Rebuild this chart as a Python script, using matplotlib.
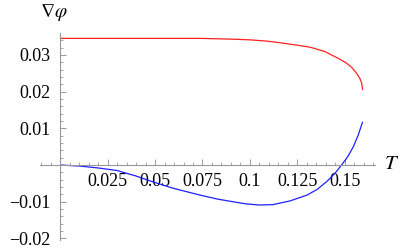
import matplotlib.pyplot as plt
from matplotlib.ticker import FixedLocator

# Valores
t_rojo = [0.0, 0.02, 0.04, 0.06, 0.074, 0.09, 0.1, 0.108, 0.116, 0.1255, 0.1316, 0.1395,
          0.1474, 0.1509, 0.1535, 0.1561, 0.1578, 0.1588, 0.1593]
v_rojo = [0.0345, 0.0345, 0.0345, 0.0345, 0.0345, 0.0343, 0.0341, 0.0338, 0.0333, 0.0326,
          0.0321, 0.0309, 0.0288, 0.0277, 0.0266, 0.0250, 0.0236, 0.0223, 0.0204]

t_azul = [0.0, 0.0105, 0.02, 0.03, 0.04, 0.0495, 0.06, 0.0737, 0.083, 0.091, 0.098, 0.105,
          0.112, 0.121, 0.13, 0.1355, 0.1404, 0.1445, 0.1482, 0.1515, 0.1544, 0.157, 0.1593]
v_azul = [0.0, -0.0003, -0.0008, -0.0015, -0.0030, -0.0047, -0.0064, -0.0082, -0.0093,
          -0.0100, -0.0106, -0.0109, -0.0108, -0.0098, -0.0082, -0.0066, -0.0045, -0.0024,
          0.0, 0.0023, 0.0050, 0.0082, 0.0118]

x_ticks = [0.025, 0.05, 0.075, 0.1, 0.125, 0.15]
x_labels = ['0.025', '0.05', '0.075', '0.1', '0.125', '0.15']
y_ticks = [-0.02, -0.01, 0.01, 0.02, 0.03]
y_labels = ['\u22120.02', '\u22120.01', '0.01', '0.02', '0.03']

plt.rcParams['font.family'] = 'serif'
plt.rcParams['font.serif'] = ['Liberation Serif', 'DejaVu Serif']
plt.rcParams['mathtext.fontset'] = 'stix'

fig = plt.figure(figsize=(4.05, 2.5), dpi=100)
ax = fig.add_axes([0, 0, 1, 1])
ax.set_xlim(-0.03158, 0.18158)
ax.set_ylim(-0.02316, 0.04496)

gris = '#999999'
for lado in ['top', 'right']:
    ax.spines[lado].set_visible(False)
ax.spines['left'].set_position(('data', 0))
ax.spines['bottom'].set_position(('data', 0))
ax.spines['left'].set_bounds(-0.0203, 0.036)
ax.spines['bottom'].set_bounds(-0.0105, 0.1658)
for lado in ['left', 'bottom']:
    ax.spines[lado].set_color(gris)
    ax.spines[lado].set_linewidth(0.8)

ax.xaxis.set_major_locator(FixedLocator(x_ticks))
ax.set_xticklabels(x_labels)
ax.xaxis.set_minor_locator(FixedLocator([i * 0.005 for i in range(-2, 34)]))
ax.yaxis.set_major_locator(FixedLocator(y_ticks))
ax.set_yticklabels(y_labels)
ax.yaxis.set_minor_locator(FixedLocator([i * 0.002 for i in range(-10, 18)]))

ax.tick_params(which='major', direction='in', length=4, width=0.7, color=gris,
               labelsize=13, pad=6)
ax.tick_params(which='minor', direction='in', length=2.3, width=0.6, color=gris)
ax.tick_params(axis='y', pad=7)

ax.plot(t_rojo, v_rojo, color='#ff2020', lw=0.9, solid_capstyle='butt')
ax.plot(t_azul, v_azul, color='#2020ff', lw=0.9, solid_capstyle='butt')

ax.text(0.1705, 0.0002, '$T$', fontsize=15, ha='left', va='center')
ax.text(-0.0105, 0.0415, r'$\nabla\varphi$', fontsize=14, ha='left', va='center')

fig.savefig('out.png', dpi=100)
